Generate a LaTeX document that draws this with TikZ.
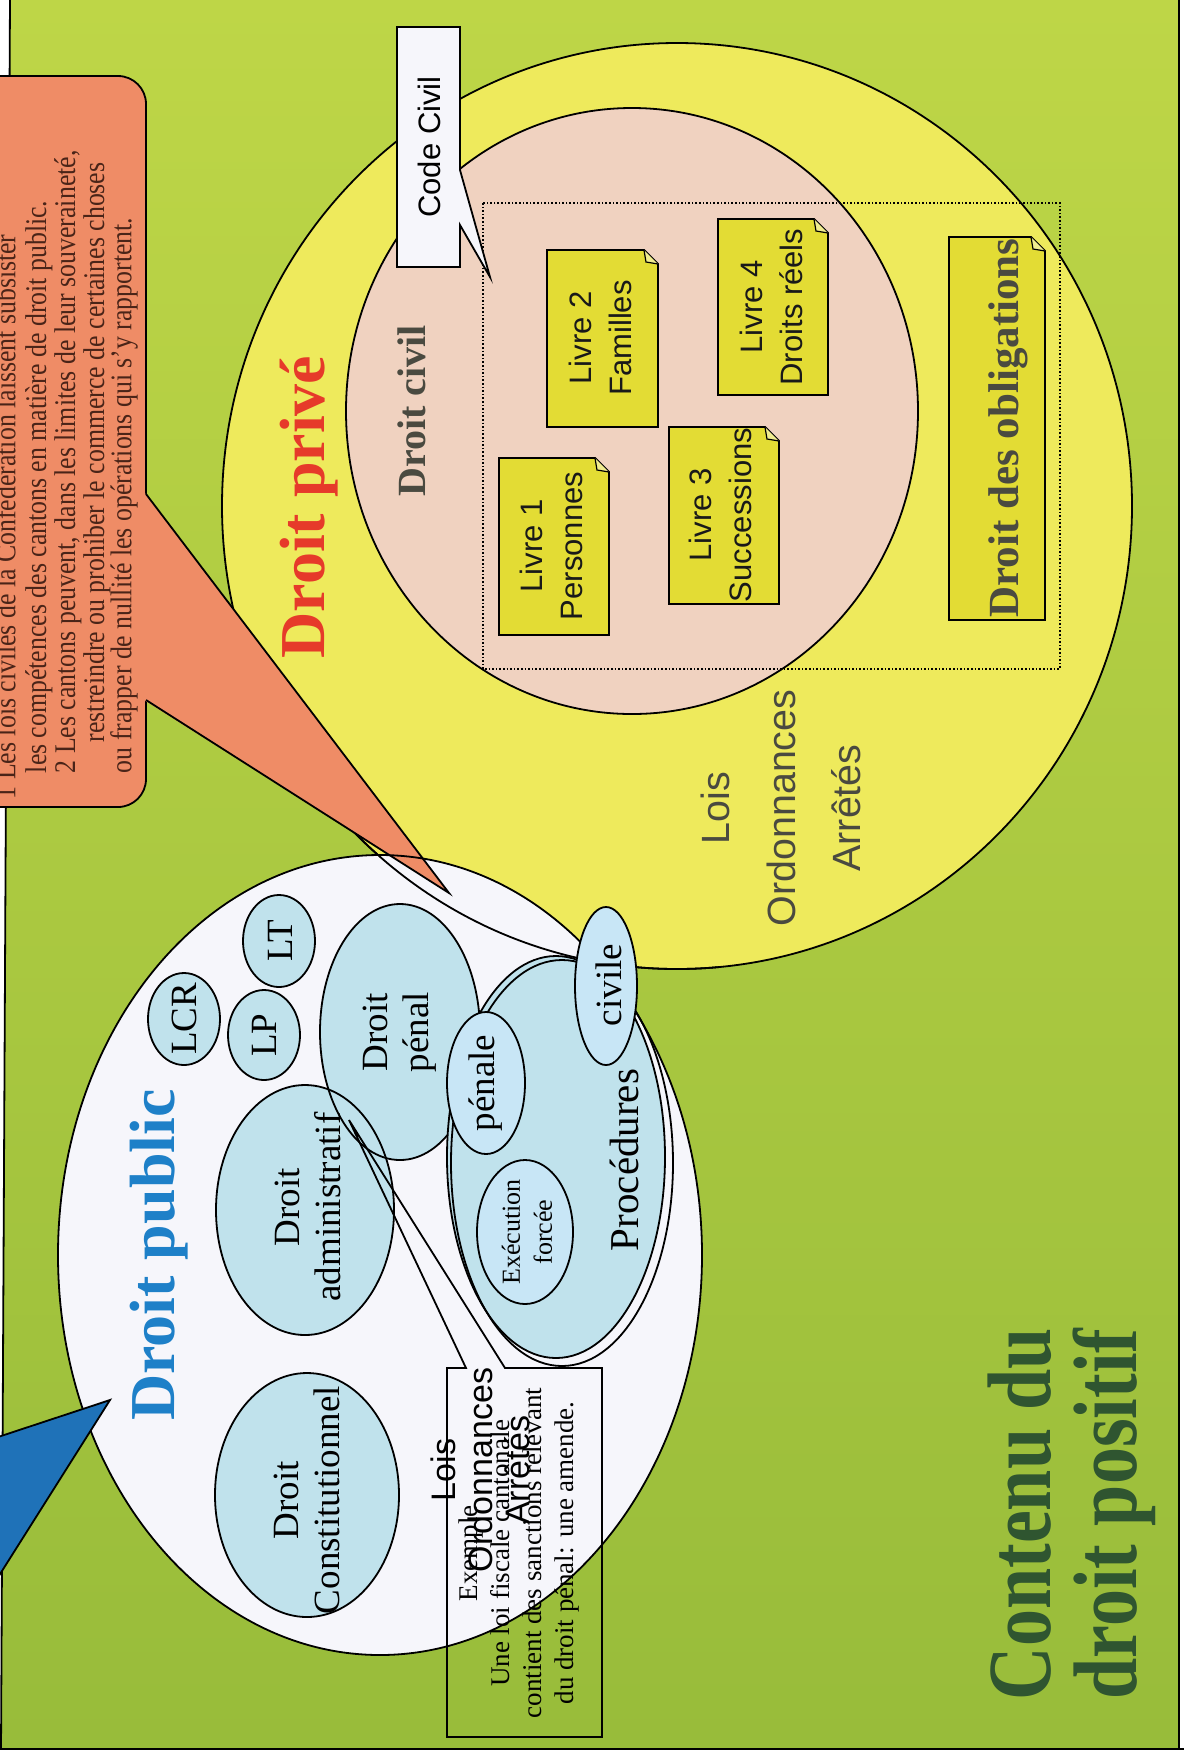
\documentclass[tikz,border=0pt]{standalone}
\usepackage{fontspec}
\setmainfont{Liberation Serif}
\newfontfamily\sansf{Liberation Sans}
\newfontfamily\condf[FakeStretch=0.86]{Liberation Serif}
\definecolor{bgtop}{HTML}{BED647}
\definecolor{bgbot}{HTML}{98BC3A}
\definecolor{yel}{HTML}{EEEA5C}
\definecolor{pinkc}{HTML}{F0D2C0}
\definecolor{book}{HTML}{E3DC34}
\definecolor{orangec}{HTML}{EF8C66}
\definecolor{blueW}{HTML}{1F72B8}
\definecolor{lblue}{HTML}{C0E2EC}
\definecolor{lblue2}{HTML}{C8E6F6}
\definecolor{whiteE}{HTML}{F6F6FB}
\definecolor{pubblue}{HTML}{1E80C8}
\definecolor{privred}{HTML}{E63A2A}
\definecolor{titlegreen}{HTML}{2F5530}
\definecolor{txtgray}{HTML}{4A4A40}
\definecolor{orangetxt}{HTML}{4A2418}
\newcommand{\notebox}[4]{%
  \filldraw[fill=book] (#1,#2) -- ({#3-14},#2) -- (#3,{#2+14}) -- (#3,#4) -- (#1,#4) -- cycle;
  \filldraw[fill=book!55!white,line width=0.6pt] ({#3-14},#2) -- ({#3-12},{#2+12}) -- (#3,{#2+14});
}
\begin{document}
\begin{tikzpicture}[x=0.5pt,y=-0.5pt,line width=0.9pt,
  vt/.style={rotate=90,inner sep=0pt,align=center},
  ell/.style={draw=black,fill=lblue},
  ellb/.style={draw=black,fill=lblue2},
  ellfont/.style={font=\fontsize{18.5}{20.5}\selectfont},
  booktext/.style={vt,font=\sansf\fontsize{15.5}{20}\selectfont,text=black!90},
  orangeline/.style={rotate=90,inner sep=0pt,anchor=west,font=\condf\fontsize{15}{15}\selectfont,text=orangetxt},
  exfont/.style={font=\fontsize{13.5}{16}\selectfont}
]
\useasboundingbox (0,0) rectangle (1184,1753);

% background
\shade[top color=bgtop,bottom color=bgbot] (0,0) rectangle (1184,1753);
\fill[white] (0,0) -- (10,0) -- (1,1753) -- (0,1753) -- cycle;
\draw (10,0) -- (1,1753);
\fill[white] (1180,0) rectangle (1184,1753);
\draw (1179,0) -- (1179,1753);
\fill[white] (0,1750) rectangle (1184,1753);
\draw (0,1749) -- (1184,1749);

% Droit prive
\filldraw[fill=yel] (677,506) ellipse [x radius=455, y radius=463];
\filldraw[fill=pinkc] (632,411) ellipse [x radius=286, y radius=303];
\draw[densely dotted,line width=0.8pt] (483,203) rectangle (1060,669);

\notebox{499}{458}{609}{635}
\node[booktext] (l1) at (551,546) {Livre 1\\Personnes};
\notebox{547}{250}{658}{427}
\node[booktext] (l2) at (600,338) {Livre 2\\Familles};
\notebox{669}{427}{779}{604}
\node[booktext] (l3) at (720,515) {Livre 3\\Successions};
\notebox{718}{219}{828}{395}
\node[booktext] (l4) at (771,307) {Livre 4\\Droits réels};
\notebox{949}{237}{1045}{620}
\node[vt,font=\bfseries\fontsize{21.5}{24}\selectfont,text=txtgray] (oblig) at (1008,428) {Droit des obligations};

% Code civil callout
\filldraw[fill=whiteE] (397,27) -- (460,27) -- (460,170) -- (490,277) -- (460,225) -- (460,267) -- (397,267) -- cycle;
\node[vt,font=\sansf\fontsize{15.5}{18}\selectfont] (cc) at (429,147) {Code Civil};

\node[vt,font=\bfseries\fontsize{32}{36}\selectfont,text=privred] (prive) at (309,507) {Droit privé};
\node[vt,font=\bfseries\fontsize{20}{24}\selectfont,text=txtgray] (civil) at (412,411) {Droit civil};
\node[vt,font=\sansf\fontsize{19.7}{32.7}\selectfont,text=txtgray] (lois1) at (781,808) {Lois\\Ordonnances\\Arrêtés};

% orange box
\filldraw[fill=orangec,rounded corners=14pt] (-40,76) rectangle (146,807);
\node[orangeline] (o1) at (5,800) {1 Les lois civiles de la Confédération laissent subsister};
\node[orangeline] (o2) at (39,774) {les compétences des cantons en matière de droit public.};
\node[orangeline] (o3) at (68,774) {2 Les cantons peuvent, dans les limites de leur souveraineté,};
\node[orangeline] (o4) at (97,743) {restreindre ou prohiber le commerce de certaines choses};
\node[orangeline] (o5) at (124,774) {ou frapper de nullité les opérations qui s’y rapportent.};

% Droit public white ellipse
\fill[whiteE] (380,1255) ellipse [x radius=322, y radius=400];
\begin{scope}
\clip (240,700) rectangle (720,1000);
\draw (677,506) ellipse [x radius=455, y radius=463];
\end{scope}

% orange wedge
\fill[orangec] (144,492) -- (449,893) -- (144,700) -- cycle;
\draw (146,494) -- (449,893) -- (146,700);

\draw (380,1255) ellipse [x radius=322, y radius=400];

% blue ellipses
\filldraw[ell] (184,1019) ellipse [x radius=36, y radius=46];
\filldraw[ell] (264,1035) ellipse [x radius=36, y radius=45];
\filldraw[ell] (279,941) ellipse [x radius=36, y radius=46];
\fill[lblue] (400,1032) ellipse [x radius=80, y radius=128];
\fill[lblue] (305,1210) ellipse [x radius=89, y radius=125];
\draw (400,1032) ellipse [x radius=80, y radius=128];
\draw (305,1210) ellipse [x radius=89, y radius=125];
\filldraw[ell] (307,1495) ellipse [x radius=92, y radius=122];
\filldraw[ell] (556,1157) ellipse [x radius=109, y radius=201];
\draw (562,1163) ellipse [x radius=111, y radius=203];
\filldraw[ellb] (486,1083) ellipse [x radius=39, y radius=71];
\filldraw[ellb] (525,1232) ellipse [x radius=48, y radius=72];
\filldraw[ellb] (606,986) ellipse [x radius=31, y radius=79];

\node[vt,ellfont] (lcr) at (184,1019) {LCR};
\node[vt,ellfont] (lp) at (264,1035) {LP};
\node[vt,ellfont] (lt) at (280,941) {LT};
\node[vt,ellfont] (penal) at (400,1032) {Droit\\pénal};
\node[vt,ellfont] (admin) at (308,1207) {Droit\\administratif};
\node[vt,ellfont] (const) at (307,1500) {Droit\\Constitutionnel};
\node[vt,ellfont] (penale) at (486,1083) {pénale};
\node[vt,ellfont] (civile) at (609,985) {civile};
\node[vt,font=\fontsize{20.5}{22}\selectfont] (proc) at (624,1160) {Procédures};
\node[vt,font=\fontsize{13}{16}\selectfont] (exec) at (527,1232) {Exécution\\forcée};

% Exemple callout
\draw (466,1368) -- (349,1120) -- (505,1368) -- (602,1368) -- (602,1737) -- (447,1737) -- (447,1368) -- cycle;
\node[vt,exfont] (ex) at (519,1553) {Exemple\\Une loi fiscale cantonale\\contient des sanctions relevant\\du droit pénal: une amende.};
\node[vt,font=\sansf\fontsize{17}{18.5}\selectfont] (lois2) at (480,1470) {Lois\\Ordonnances\\Arrêtés};

% blue wedge
\filldraw[fill=blueW] (-5,1438) -- (110,1400) -- (-5,1582) -- cycle;

% titles
\node[vt,font=\bfseries\fontsize{32}{36}\selectfont,text=pubblue] (public) at (159,1255) {Droit public};
\node[vt,font=\bfseries\fontsize{37}{43}\selectfont,text=titlegreen] (title) at (1072,1514) {\scalebox{1}[1.22]{Contenu du}\\\scalebox{1}[1.22]{droit positif}};
\end{tikzpicture}
\end{document}
